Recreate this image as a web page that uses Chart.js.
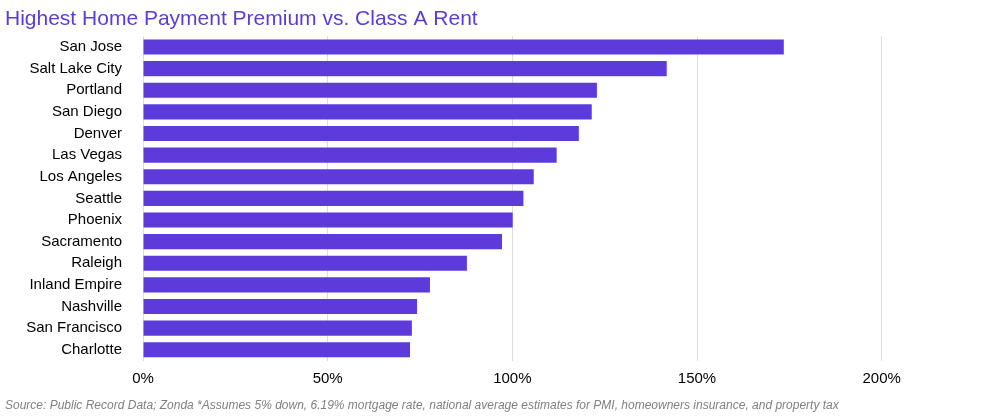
<!DOCTYPE html>
<html>
<head>
<script src="https://cdn.jsdelivr.net/npm/chart.js@4"></script>
<style>
  body { margin: 0; background: #fff; }
  #wrap { width: 982px; height: 419px; }
</style>
</head>
<body>
<div id="wrap"><canvas id="myChart"></canvas></div>
<script>
const chartNames = ['San Jose', 'Salt Lake City', 'Portland', 'San Diego', 'Denver', 'Las Vegas',
  'Los Angeles', 'Seattle', 'Phoenix', 'Sacramento', 'Raleigh', 'Inland Empire',
  'Nashville', 'San Francisco', 'Charlotte'];
const chartStats = [173.5, 141.8, 122.9, 121.5, 118, 112, 105.8, 103, 100.1, 97.2, 87.7, 77.7, 74.2, 72.8, 72.3];

Chart.defaults.font.family = "'Liberation Sans', Arial, sans-serif";

const ctx = document.getElementById('myChart');
const chart = new Chart(ctx, {
  type: 'bar',
  data: {
    labels: chartNames,
    datasets: [{
      label: '',
      data: chartStats,
      backgroundColor: '#5d3bdb',
      barPercentage: 0.7,
      categoryPercentage: 1.0
    }]
  },
  options: {
    indexAxis: 'y',
    responsive: true,
    maintainAspectRatio: false,
    animation: false,
    layout: { padding: { left: 5, right: 8, top: 0, bottom: 0 } },
    plugins: {
      legend: { display: false },
      tooltip: { enabled: false },
      title: {
        display: true,
        text: 'Highest Home Payment Premium vs. Class A Rent',
        align: 'start',
        color: '#5b3bd9',
        font: { size: 21, weight: 'normal' },
        padding: { top: 7, bottom: 4 }
      },
      subtitle: {
        display: true,
        position: 'bottom',
        align: 'start',
        text: 'Source: Public Record Data; Zonda *Assumes 5% down, 6.19% mortgage rate, national average estimates for PMI, homeowners insurance, and property tax',
        color: '#808080',
        font: { size: 12, style: 'italic' },
        padding: { top: 2, bottom: 6 }
      }
    },
    scales: {
      x: {
        min: 0,
        max: 225,
        border: { display: false },
        ticks: {
          stepSize: 25,
          color: '#000',
          font: { size: 15 },
          padding: 9,
          callback: v => (v % 50 === 0 && v <= 200) ? v + '%' : null
        },
        grid: {
          color: c => (c.tick && c.tick.value % 50 === 0 && c.tick.value <= 200) ? '#dedede' : 'rgba(0,0,0,0)',
          drawTicks: false
        }
      },
      y: {
        border: { display: false },
        grid: { display: false },
        afterFit: s => { s.width = 138; },
        ticks: { color: '#000', font: { size: 15 }, padding: 13 }
      }
    }
  }
});
</script>
</body>
</html>
